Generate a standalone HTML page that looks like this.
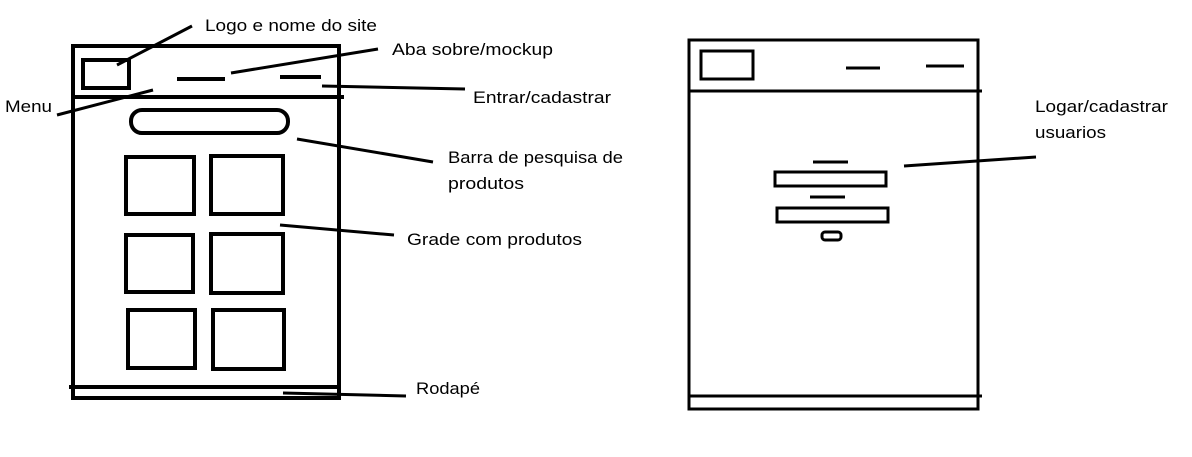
<!DOCTYPE html>
<html><head><meta charset="utf-8"><style>
html,body{margin:0;padding:0;background:#fff;width:1192px;height:457px;overflow:hidden}
text{font-family:"Liberation Sans",sans-serif;font-size:17px;fill:#000}
</style></head><body>
<svg width="1192" height="457" viewBox="0 0 1192 457" xmlns="http://www.w3.org/2000/svg">
<g fill="none" stroke="#000" stroke-width="4">
<rect x="73" y="46" width="266" height="352"/>
<line x1="71" y1="97" x2="344" y2="97"/>
<rect x="83" y="60" width="46" height="28"/>
<line x1="177" y1="79" x2="225" y2="79"/>
<line x1="280" y1="77" x2="321" y2="77"/>
<rect x="131" y="110" width="157" height="23" rx="11"/>
<rect x="126" y="157" width="68" height="57"/>
<rect x="211" y="156" width="72" height="58"/>
<rect x="126" y="235" width="67" height="57"/>
<rect x="211" y="234" width="72" height="59"/>
<rect x="128" y="310" width="67" height="58"/>
<rect x="213" y="310" width="71" height="59"/>
<line x1="69" y1="387" x2="341" y2="387"/>
</g>
<g stroke="#000" stroke-width="3" fill="none">
<line x1="117" y1="65" x2="192" y2="26"/>
<line x1="231" y1="73" x2="378" y2="49"/>
<line x1="322" y1="86" x2="465" y2="89"/>
<line x1="57" y1="115" x2="153" y2="90"/>
<line x1="297" y1="139" x2="433" y2="162"/>
<line x1="280" y1="225" x2="394" y2="235"/>
<line x1="283" y1="393" x2="406" y2="396"/>
<rect x="689" y="40" width="289" height="369"/>
<line x1="688" y1="91" x2="982" y2="91"/>
<rect x="701" y="51" width="52" height="28"/>
<line x1="846" y1="68" x2="880" y2="68"/>
<line x1="926" y1="66" x2="964" y2="66"/>
<line x1="813" y1="162" x2="848" y2="162"/>
<rect x="775" y="172" width="111" height="14"/>
<line x1="810" y1="197" x2="845" y2="197"/>
<rect x="777" y="208" width="111" height="14"/>
<rect x="822" y="232" width="19" height="8" rx="3"/>
<line x1="688" y1="396" x2="982" y2="396"/>
<line x1="904" y1="166" x2="1036" y2="157"/>
</g>
<text x="205" y="31" textLength="172" lengthAdjust="spacingAndGlyphs">Logo e nome do site</text>
<text x="392" y="55" textLength="161" lengthAdjust="spacingAndGlyphs">Aba sobre/mockup</text>
<text x="473" y="103" textLength="138" lengthAdjust="spacingAndGlyphs">Entrar/cadastrar</text>
<text x="5" y="112" textLength="47" lengthAdjust="spacingAndGlyphs">Menu</text>
<text x="448" y="163" textLength="175" lengthAdjust="spacingAndGlyphs">Barra de pesquisa de</text>
<text x="448" y="189" textLength="76" lengthAdjust="spacingAndGlyphs">produtos</text>
<text x="407" y="245" textLength="175" lengthAdjust="spacingAndGlyphs">Grade com produtos</text>
<text x="416" y="394" textLength="64" lengthAdjust="spacingAndGlyphs">Rodapé</text>
<text x="1035" y="112" textLength="133" lengthAdjust="spacingAndGlyphs">Logar/cadastrar</text>
<text x="1035" y="138" textLength="71" lengthAdjust="spacingAndGlyphs">usuarios</text>
</svg>
</body></html>
